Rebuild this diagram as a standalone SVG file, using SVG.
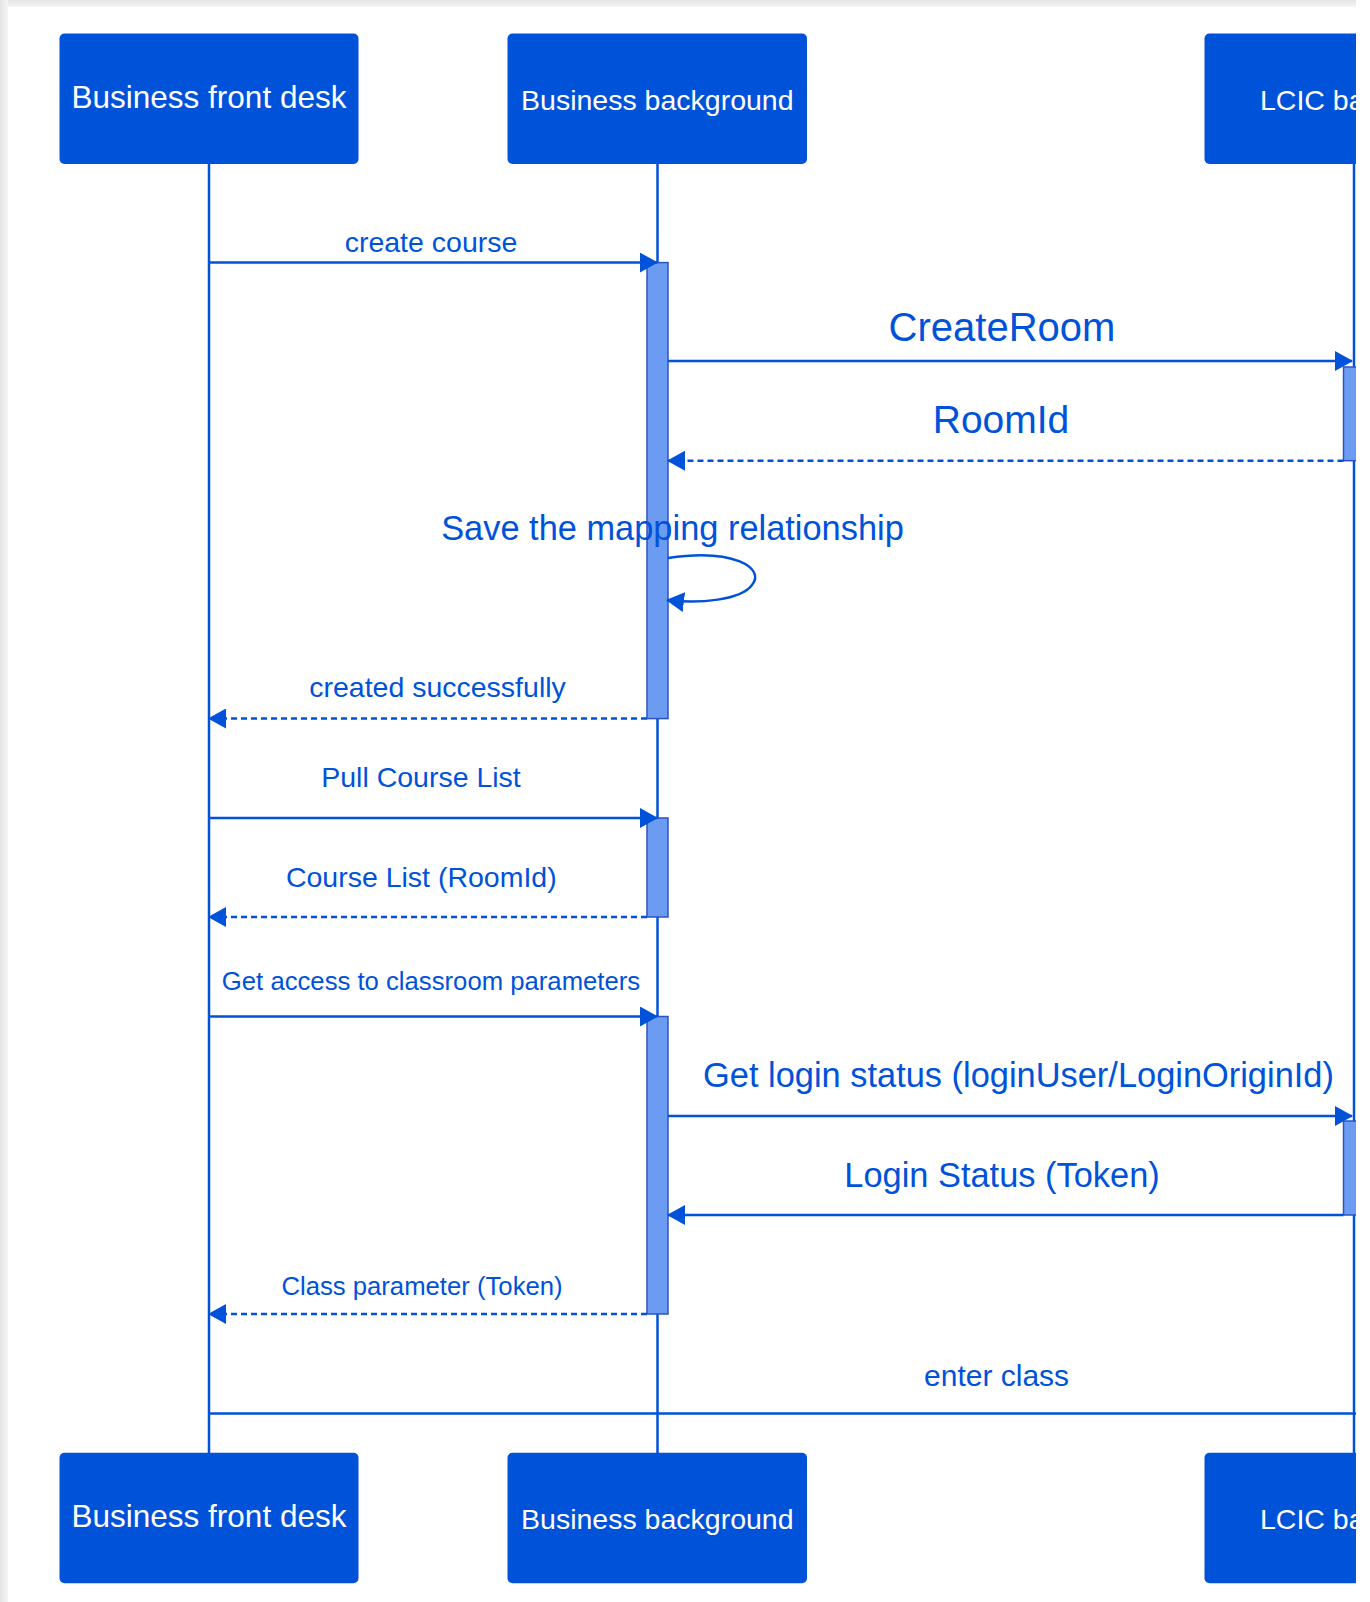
<svg xmlns="http://www.w3.org/2000/svg" width="1370" height="1602" viewBox="0 0 1370 1602">
<style>
  .box { fill: #0052d9; }
  .boxtxt { fill: #ffffff; font-family: "Liberation Sans", Arial, sans-serif; }
  .life { stroke: #0052d9; stroke-width: 2.5; fill: none; }
  .bar { fill: #6b9cf2; stroke: #2b53c5; stroke-width: 1.5; }
  .msg { stroke: #0052d9; stroke-width: 2.5; fill: none; }
  .dash { stroke-dasharray: 6 4; }
  .lbl { fill: #0052d9; font-family: "Liberation Sans", Arial, sans-serif; text-anchor: middle; }
</style>
<defs>
  <marker id="arrow" viewBox="0 0 18 20" refX="17" refY="10" markerWidth="18" markerHeight="20" markerUnits="userSpaceOnUse" orient="auto">
    <path d="M0,0 L18,10 L0,20 z" fill="#0052d9"/>
  </marker>
  <linearGradient id="gTop" x1="0" y1="0" x2="0" y2="1">
    <stop offset="0" stop-color="#e4e4e4"/>
    <stop offset="1" stop-color="#f6f6f6"/>
  </linearGradient>
  <linearGradient id="gLeft" x1="0" y1="0" x2="1" y2="0">
    <stop offset="0" stop-color="#e4e4e4"/>
    <stop offset="1" stop-color="#f6f6f6"/>
  </linearGradient>
  <clipPath id="page">
    <rect x="0" y="0" width="1356" height="1602"/>
  </clipPath>
</defs>
<rect x="0" y="0" width="1370" height="1602" fill="#ffffff"/>
<rect x="0" y="0" width="1356" height="7" fill="url(#gTop)"/>
<rect x="0" y="0" width="8" height="1602" fill="url(#gLeft)"/>

<g clip-path="url(#page)">
  <g id="lifelines">
    <line class="life" x1="209" y1="164" x2="209" y2="1453"/>
    <line class="life" x1="657.5" y1="164" x2="657.5" y2="1453"/>
    <line class="life" x1="1354" y1="164" x2="1354" y2="1453"/>
  </g>

  <g id="activations">
    <rect class="bar" x="647" y="262.6" width="21" height="456"/>
    <rect class="bar" x="647" y="818" width="21" height="99"/>
    <rect class="bar" x="647" y="1016.5" width="21" height="297.5"/>
    <rect class="bar" x="1343.5" y="367" width="21" height="93.7"/>
    <rect class="bar" x="1343.5" y="1121" width="21" height="94"/>
  </g>

  <g id="node-front-desk-top">
    <rect class="box" x="59.5" y="33.5" width="299" height="130.5" rx="5"/>
    <text class="boxtxt" x="209" y="108" font-size="31.5" text-anchor="middle">Business front desk</text>
  </g>
  <g id="node-background-top">
    <rect class="box" x="507.5" y="33.5" width="299.5" height="130.5" rx="5"/>
    <text class="boxtxt" x="657.3" y="109.5" font-size="28.5" text-anchor="middle">Business background</text>
  </g>
  <g id="node-lcic-top">
    <rect class="box" x="1204.5" y="33.5" width="299" height="130.5" rx="5"/>
    <text class="boxtxt" x="1260" y="109.5" font-size="28.5">LCIC ba</text>
  </g>
  <g id="node-front-desk-bottom">
    <rect class="box" x="59.5" y="1452.7" width="299" height="130.5" rx="5"/>
    <text class="boxtxt" x="209" y="1527" font-size="31.5" text-anchor="middle">Business front desk</text>
  </g>
  <g id="node-background-bottom">
    <rect class="box" x="507.5" y="1452.7" width="299.5" height="130.5" rx="5"/>
    <text class="boxtxt" x="657.3" y="1528.5" font-size="28.5" text-anchor="middle">Business background</text>
  </g>
  <g id="node-lcic-bottom">
    <rect class="box" x="1204.5" y="1452.7" width="299" height="130.5" rx="5"/>
    <text class="boxtxt" x="1260" y="1528.5" font-size="28.5">LCIC ba</text>
  </g>

  <g id="connectors">
    <line class="msg" x1="209" y1="262.6" x2="657" y2="262.6" marker-end="url(#arrow)"/>
    <text class="lbl" x="431" y="252" font-size="28.5">create course</text>

    <line class="msg" x1="668" y1="361" x2="1352" y2="361" marker-end="url(#arrow)"/>
    <text class="lbl" x="1002" y="341" font-size="40">CreateRoom</text>

    <line class="msg dash" x1="1343.5" y1="460.7" x2="668" y2="460.7" marker-end="url(#arrow)"/>
    <text class="lbl" x="1001" y="433" font-size="39">RoomId</text>

    <text class="lbl" x="672.5" y="540" font-size="34.4">Save the mapping relationship</text>
    <path class="msg" d="M668,558 C733,548 766,568 752,585 C741,600 700,604 667,600" marker-end="url(#arrow)"/>

    <line class="msg dash" x1="647" y1="718.5" x2="209" y2="718.5" marker-end="url(#arrow)"/>
    <text class="lbl" x="437.5" y="697" font-size="28.5">created successfully</text>

    <line class="msg" x1="209" y1="818" x2="657" y2="818" marker-end="url(#arrow)"/>
    <text class="lbl" x="421" y="787.3" font-size="28.5">Pull Course List</text>

    <line class="msg dash" x1="647" y1="917" x2="209" y2="917" marker-end="url(#arrow)"/>
    <text class="lbl" x="421.3" y="887.3" font-size="28.5">Course List (RoomId)</text>

    <line class="msg" x1="209" y1="1016.5" x2="657" y2="1016.5" marker-end="url(#arrow)"/>
    <text class="lbl" x="431" y="990" font-size="25.7">Get access to classroom parameters</text>

    <line class="msg" x1="668" y1="1116" x2="1352" y2="1116" marker-end="url(#arrow)"/>
    <text class="lbl" x="1018.5" y="1087" font-size="34.4">Get login status (loginUser/LoginOriginId)</text>

    <line class="msg" x1="1343.5" y1="1215" x2="668" y2="1215" marker-end="url(#arrow)"/>
    <text class="lbl" x="1002" y="1187" font-size="34.4">Login Status (Token)</text>

    <line class="msg dash" x1="647" y1="1314" x2="209" y2="1314" marker-end="url(#arrow)"/>
    <text class="lbl" x="422" y="1295" font-size="25.7">Class parameter (Token)</text>

    <line class="msg" x1="209" y1="1413.5" x2="1370" y2="1413.5"/>
    <text class="lbl" x="996.6" y="1386.4" font-size="30">enter class</text>
  </g>
</g>
</svg>
